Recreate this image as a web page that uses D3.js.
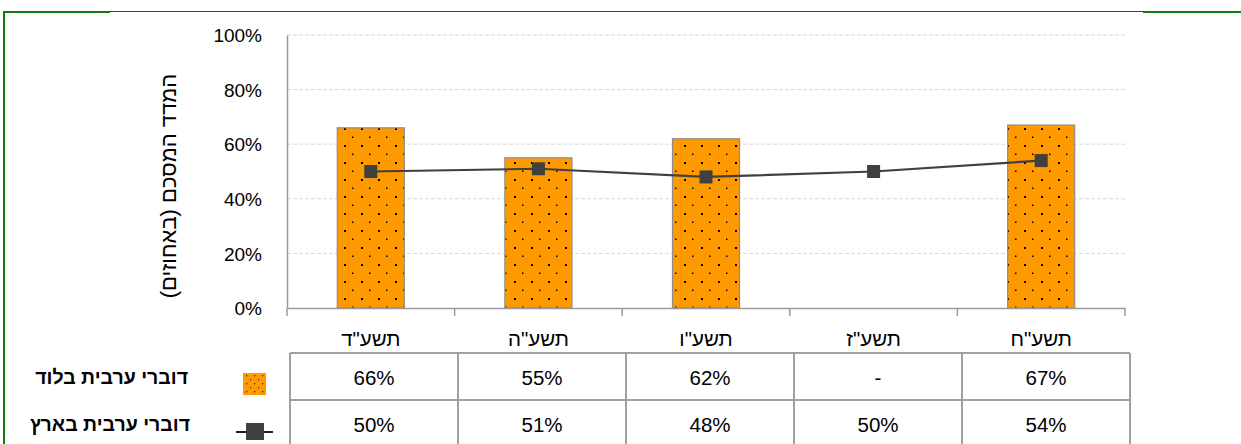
<!DOCTYPE html>
<html><head><meta charset="utf-8">
<script src="https://cdn.jsdelivr.net/npm/d3@7"></script>
<style>
body{margin:0;background:#fff;}
svg{display:block;font-family:"Liberation Sans",Arial,sans-serif;}
</style></head>
<body>
<svg id="chart" width="1241" height="444"></svg>
<script>
const categories = ['תשע"ד','תשע"ה','תשע"ו','תשע"ז','תשע"ח'];
const barValues = [66, 55, 62, null, 67];
const lineValues = [50, 51, 48, 50, 54];
const yTicks = [0, 20, 40, 60, 80, 100];
const seriesNames = ["דוברי ערבית בלוד", "דוברי ערבית בארץ"];
const yTitle = "המדד המסכם (באחוזים)";

const svg = d3.select("#chart");
const W = 1241, H = 444;
const plot = {l: 287, r: 1125, t: 35, b: 308};

// pattern
const defs = svg.append("defs");
const pat = defs.append("pattern").attr("id","dots").attr("patternUnits","userSpaceOnUse")
  .attr("width",17).attr("height",17).attr("x",336).attr("y",127);
pat.append("rect").attr("width",17).attr("height",17).attr("fill","#FF9900");
pat.append("rect").attr("x",8).attr("y",1).attr("width",2).attr("height",2).attr("fill","#000");
pat.append("rect").attr("x",16).attr("y",9.5).attr("width",2).attr("height",1.5).attr("fill","#000");
pat.append("rect").attr("x",-0.5).attr("y",9.5).attr("width",1).attr("height",1.5).attr("fill","#000");
const pat2 = defs.append("pattern").attr("id","dots2").attr("patternUnits","userSpaceOnUse")
  .attr("width",8).attr("height",8).attr("x",243).attr("y",373);
pat2.append("rect").attr("width",8).attr("height",8).attr("fill","#FF9900");
pat2.append("rect").attr("x",3).attr("y",2).attr("width",1.3).attr("height",1.3).attr("fill","#333");
pat2.append("rect").attr("x",7).attr("y",6).attr("width",1.3).attr("height",1.3).attr("fill","#333");

// green frame
svg.append("line").attr("x1",4).attr("x2",4).attr("y1",12).attr("y2",H).attr("stroke","#0f7a0f").attr("stroke-width",2);
svg.append("line").attr("x1",3).attr("x2",110).attr("y1",12).attr("y2",12).attr("stroke","#0f7a0f").attr("stroke-width",2);
svg.append("line").attr("x1",110).attr("x2",1143).attr("y1",11.5).attr("y2",11.5).attr("stroke","#0f6a0f").attr("stroke-width",1);
svg.append("line").attr("x1",1143).attr("x2",W).attr("y1",12).attr("y2",12).attr("stroke","#0f7a0f").attr("stroke-width",2);

const x = d3.scaleBand().domain(categories).range([plot.l, plot.r]).padding(0);
const y = d3.scaleLinear().domain([0,100]).range([plot.b, plot.t]);

// gridlines
svg.append("g").selectAll("line").data(yTicks.filter(d=>d>0)).join("line")
  .attr("x1",plot.l).attr("x2",plot.r).attr("y1",d=>y(d)).attr("y2",d=>y(d))
  .attr("stroke","#d9d9d9").attr("stroke-width",1).attr("stroke-dasharray","4,2");

// y axis
const yAxis = d3.axisLeft(y).tickValues(yTicks).tickFormat(d=>d+"%").tickSize(0).tickPadding(25);
const yg = svg.append("g").attr("transform",`translate(${plot.l},0)`).call(yAxis);
yg.select(".domain").attr("stroke","#9a9a9a").attr("stroke-width",1.5);
yg.selectAll("text").attr("font-size",19).attr("fill","#000").attr("font-family","'Liberation Sans',Arial,sans-serif").attr("dy","0.35em");

// bars
svg.append("g").selectAll("rect").data(barValues.map((v,i)=>({v,c:categories[i]})).filter(d=>d.v!=null)).join("rect")
  .attr("x",d=>x(d.c)+x.bandwidth()*0.3).attr("width",x.bandwidth()*0.4)
  .attr("y",d=>y(d.v)).attr("height",d=>y(0)-y(d.v))
  .attr("fill","url(#dots)").attr("stroke","#8c8c8c").attr("stroke-width",1.2);

// x axis
const xAxis = d3.axisBottom(x).tickSize(0).tickFormat("");
const xg = svg.append("g").attr("transform",`translate(0,${plot.b})`).call(xAxis);
xg.select(".domain").attr("stroke","#9a9a9a").attr("stroke-width",1.5);
const bounds = categories.map(c=>x(c)).concat([plot.r]);
svg.append("g").selectAll("line").data(bounds).join("line")
  .attr("x1",d=>d).attr("x2",d=>d).attr("y1",plot.b).attr("y2",plot.b+8)
  .attr("stroke","#9a9a9a").attr("stroke-width",1.5);
svg.append("g").selectAll("text").data(categories).join("text")
  .attr("x",d=>x(d)+x.bandwidth()/2).attr("y",346).attr("text-anchor","middle")
  .attr("font-size",20.5).attr("fill","#000").text(d=>d);

// line
const line = d3.line().x((d,i)=>x(categories[i])+x.bandwidth()/2).y(d=>y(d));
svg.append("path").datum(lineValues).attr("d",line).attr("fill","none").attr("stroke","#404040").attr("stroke-width",2.2);
svg.append("g").selectAll("rect").data(lineValues).join("rect")
  .attr("x",(d,i)=>x(categories[i])+x.bandwidth()/2-6.5).attr("y",d=>y(d)-6.5)
  .attr("width",13).attr("height",13).attr("fill","#404040");

// y title
svg.append("text").attr("transform","translate(176,186) rotate(-90)")
  .attr("text-anchor","middle").attr("direction","rtl").attr("font-size",22).attr("fill","#000")
  .attr("font-family","'Liberation Sans',Arial,sans-serif").text(yTitle);

// table
const tx = d3.scaleBand().domain(categories).range([290,1130]);
const rows = [353, 400, 447];
const tg = svg.append("g").attr("stroke","#a0a0a0").attr("stroke-width",2);
rows.forEach(r=>tg.append("line").attr("x1",290).attr("x2",1130).attr("y1",r).attr("y2",r));
categories.concat(["end"]).forEach((c,i)=>{
  const xx = i<categories.length ? tx(c) : 1130;
  tg.append("line").attr("x1",xx).attr("x2",xx).attr("y1",353).attr("y2",H);
});
const fmt = v => v==null ? "-" : v+"%";
svg.append("g").selectAll("text").data(barValues).join("text")
  .attr("x",(d,i)=>tx(categories[i])+tx.bandwidth()/2).attr("y",385).attr("text-anchor","middle")
  .attr("font-size",20.5).attr("fill","#000").text(fmt);
svg.append("g").selectAll("text").data(lineValues).join("text")
  .attr("x",(d,i)=>tx(categories[i])+tx.bandwidth()/2).attr("y",432).attr("text-anchor","middle")
  .attr("font-size",20.5).attr("fill","#000").text(fmt);

// legend
svg.append("text").attr("x",188).attr("y",384).attr("text-anchor","end")
  .attr("font-weight","bold").attr("font-size",19.5).attr("fill","#000").text(seriesNames[0]);
svg.append("text").attr("x",190).attr("y",431).attr("text-anchor","end")
  .attr("font-weight","bold").attr("font-size",19.5).attr("fill","#000").text(seriesNames[1]);
svg.append("rect").attr("x",243).attr("y",373).attr("width",23).attr("height",22).attr("fill","url(#dots2)");
svg.append("line").attr("x1",236).attr("x2",273).attr("y1",432).attr("y2",432).attr("stroke","#202020").attr("stroke-width",2);
svg.append("rect").attr("x",246).attr("y",423).attr("width",18).attr("height",17).attr("fill","#404040");
</script>
</body></html>
